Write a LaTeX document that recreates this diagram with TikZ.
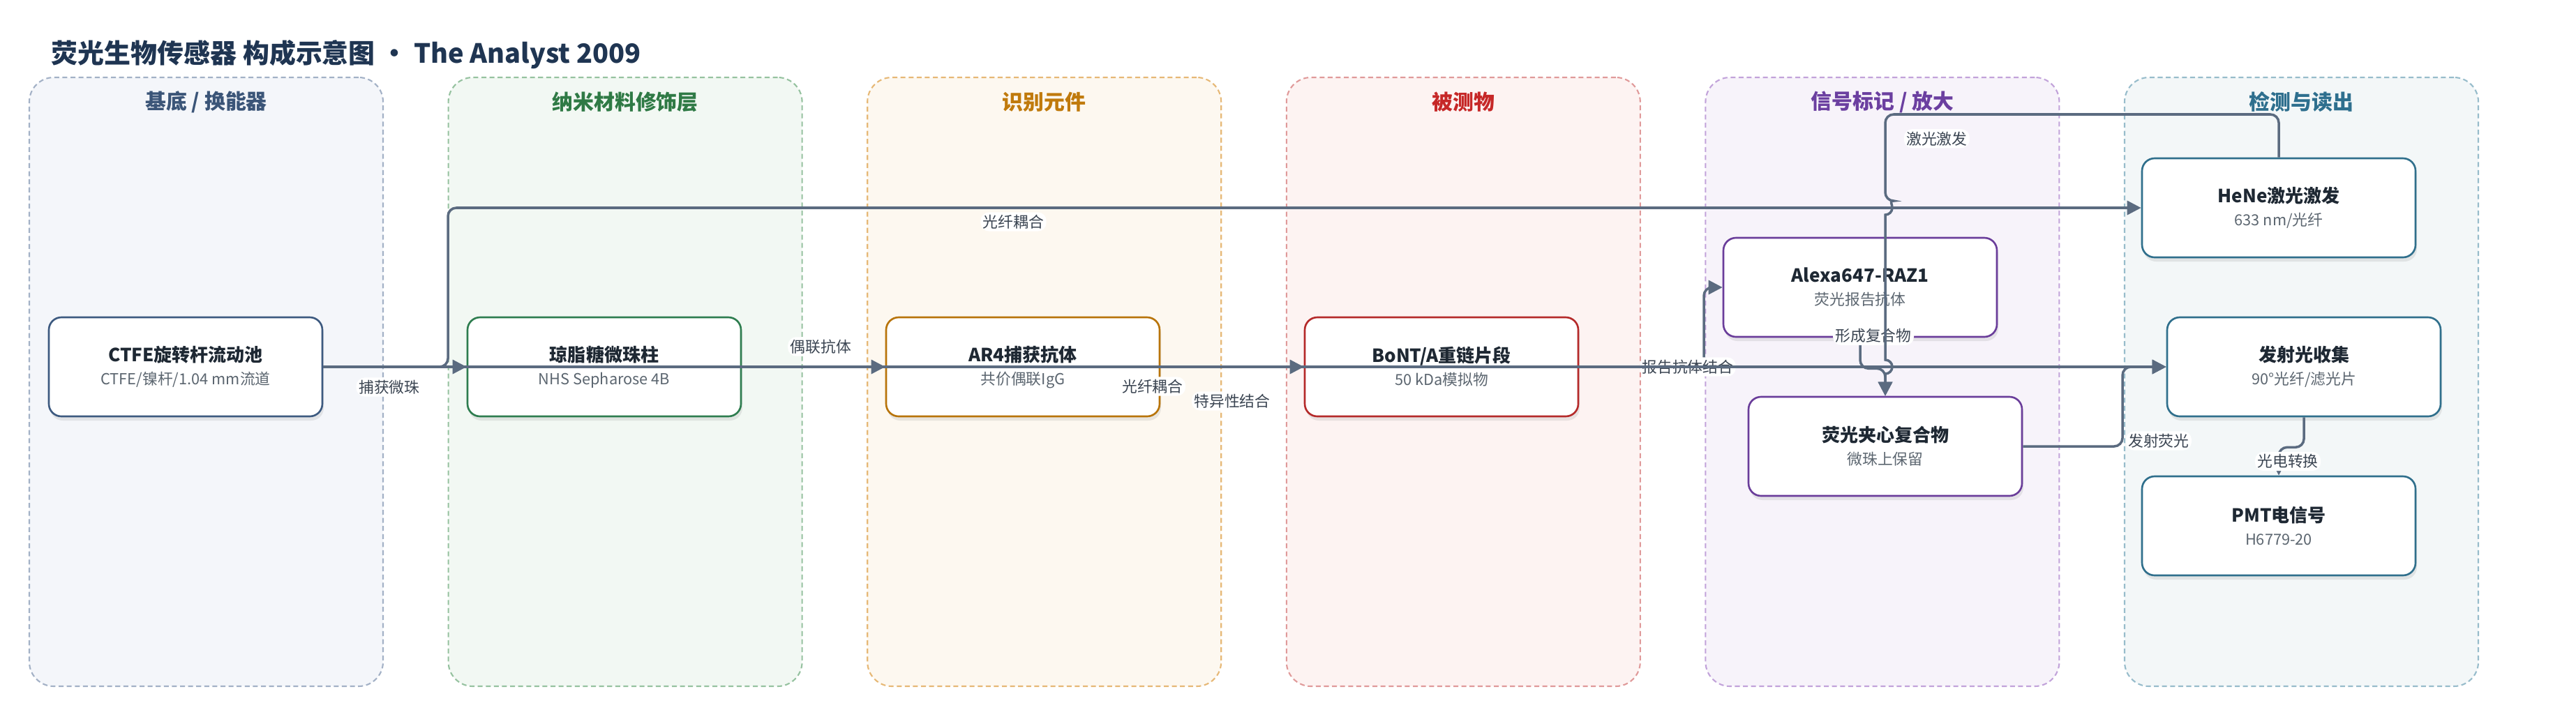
\documentclass[tikz,border=0pt]{standalone}
\usepackage{fontspec}
\setmainfont{Noto Sans CJK SC}
\usetikzlibrary{arrows.meta,positioning,shadows}

\definecolor{titleblue}{HTML}{1F3552}
\definecolor{edgegray}{HTML}{5B6B80}
\definecolor{lbltext}{HTML}{3B4552}
\definecolor{maintext}{HTML}{1E2833}
\definecolor{subtext}{HTML}{5C6670}
\definecolor{fillA}{HTML}{F4F6FA}\definecolor{bordA}{HTML}{A3B1C6}\definecolor{headA}{HTML}{3B5578}\definecolor{cardA}{HTML}{3D5A80}
\definecolor{fillB}{HTML}{F2F8F3}\definecolor{bordB}{HTML}{96C2A0}\definecolor{headB}{HTML}{2F7A45}\definecolor{cardB}{HTML}{2E7D4F}
\definecolor{fillC}{HTML}{FDF8F0}\definecolor{bordC}{HTML}{E6B876}\definecolor{headC}{HTML}{C07A0C}\definecolor{cardC}{HTML}{B8740A}
\definecolor{fillD}{HTML}{FDF3F2}\definecolor{bordD}{HTML}{E09A9A}\definecolor{headD}{HTML}{C62828}\definecolor{cardD}{HTML}{B52A2A}
\definecolor{fillE}{HTML}{F7F3FA}\definecolor{bordE}{HTML}{C2A3DA}\definecolor{headE}{HTML}{6B3FA0}\definecolor{cardE}{HTML}{6A3D9A}
\definecolor{fillF}{HTML}{F3F7F8}\definecolor{bordF}{HTML}{97BCCB}\definecolor{headF}{HTML}{2E6F8E}\definecolor{cardF}{HTML}{2F6F8C}

\newcommand{\cardtext}[2]{{\fontsize{7.4}{9}\selectfont\bfseries #1}\\[-2.6pt]{\fontsize{6.2}{7.5}\selectfont\color{subtext}#2}}

\tikzset{
  lane/.style={rounded corners=0.35cm, line width=0.6pt, dash pattern=on 2pt off 1.3pt, minimum width=5.07cm, minimum height=8.73cm, inner sep=0pt},
  lanehead/.style={font=\fontsize{8.5}{10}\selectfont\bfseries},
  card/.style={draw, fill=white, line width=0.75pt, rounded corners=0.18cm, minimum width=3.92cm, minimum height=1.42cm, align=center, text=maintext, drop shadow={shadow xshift=0.02cm, shadow yshift=-0.06cm, opacity=0.16}},
  flow/.style={draw=edgegray, line width=1pt, rounded corners=0.12cm, -{Triangle[length=0.2cm, width=0.2cm]}},
  lbl/.style={fill=white, inner sep=1pt, text=lbltext, font=\fontsize{6.2}{7}\selectfont}
}

\begin{document}
\begin{tikzpicture}[node distance=6cm]
    \useasboundingbox (0,0) rectangle (36.92,-10.07);
    \node[anchor=west, inner sep=0pt, text=titleblue, font=\fontsize{10.8}{13}\selectfont\bfseries] (title) at (0.73,-0.78) {荧光生物传感器 构成示意图 · The Analyst 2009};

    \foreach \i/\lc/\txt in {0/A/{基底 / 换能器}, 1/B/{纳米材料修饰层}, 2/C/{识别元件}, 3/D/{被测物}, 4/E/{信号标记 / 放大}, 5/F/{检测与读出}} {
        \node[lane, fill=fill\lc, draw=bord\lc] (lane\lc) at ({2.955+6.006*\i},-5.475) {};
        \node[lanehead, text=head\lc] (head\lc) at ({2.955+6.006*\i},-1.46) {\txt};
    }

    \node[card, draw=cardA] (ctfe) at (2.66,-5.26) {\cardtext{CTFE旋转杆流动池}{CTFE/镍杆/1.04 mm流道}};
    \node[card, draw=cardB, right of=ctfe] (bead) {\cardtext{琼脂糖微珠柱}{NHS Sepharose 4B}};
    \node[card, draw=cardC, right of=bead] (ar4) {\cardtext{AR4捕获抗体}{共价偶联IgG}};
    \node[card, draw=cardD, right of=ar4] (bont) {\cardtext{BoNT/A重链片段}{50 kDa模拟物}};
    \node[card, draw=cardE, right of=bont, yshift=1.14cm] (alexa) {\cardtext{Alexa647-RAZ1}{荧光报告抗体}};
    \node[card, draw=cardE, right of=bont, xshift=0.36cm, yshift=-1.14cm] (fj) {\cardtext{荧光夹心复合物}{微珠上保留}};
    \node[card, draw=cardF, right of=alexa, yshift=1.14cm] (hene) {\cardtext{HeNe激光激发}{633 nm/光纤}};
    \node[card, draw=cardF, right of=fj, yshift=1.14cm] (fs) {\cardtext{发射光收集}{90°光纤/滤光片}};
    \node[card, draw=cardF, right of=fj, xshift=-0.36cm, yshift=-1.14cm] (pmt) {\cardtext{PMT电信号}{H6779-20}};

    \draw[flow] (ctfe) -- node[lbl, pos=0.46, yshift=-0.29cm] {捕获微珠} (bead);
    \draw[flow] (bead) -- node[lbl, pos=0.55, yshift=0.29cm] {偶联抗体} (ar4);
    \draw[flow] (ar4) -- node[lbl, midway, yshift=-0.49cm] {特异性结合} (bont);
    \draw[flow] (bont.east) -- node[lbl, pos=0.87] {报告抗体结合} (24.42,-5.26) |- (alexa.west);
    \draw[flow] (alexa.south) -- node[lbl, pos=0, xshift=0.19cm, yshift=0.03cm] {形成复合物} ++(0,-0.44) -| (fj.north);
    \draw[flow] (fj.east) -- node[lbl, pos=1, anchor=west, xshift=0.03cm, yshift=0.08cm] {发射荧光} (30.42,-6.40) |- (fs.west);
    \draw[flow] (fs.south) -- ++(0,-0.43) -| node[lbl, pos=0.75, xshift=0.13cm] {光电转换} (pmt.north);
    \draw[flow] (ctfe.east) -- (6.42,-5.26) |- node[lbl, pos=0.667, yshift=-0.2cm] {光纤耦合} (hene.west);
    \draw[flow] (hene.north) |- (27.02,-1.64) -- node[lbl, pos=0.28, anchor=west, xshift=0.25cm] {激光激发} (27.02,-2.88)
        [sharp corners] arc[start angle=90, end angle=-90, radius=0.1] -- (27.02,-5.16)
        arc[start angle=90, end angle=-90, radius=0.1] -- (fj.north);
    \draw[flow] (ctfe.east) -- node[lbl, pos=0.45, yshift=-0.28cm] {光纤耦合} (fs.west);
\end{tikzpicture}
\end{document}
